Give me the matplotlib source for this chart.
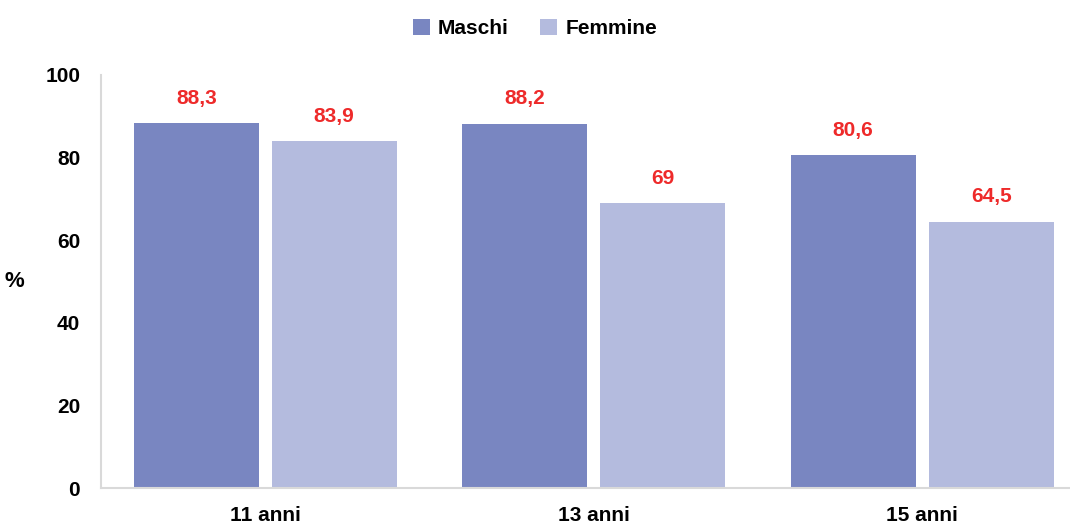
import numpy as np
import matplotlib
matplotlib.use("Agg")
import matplotlib.pyplot as plt

categories = ["11 anni", "13 anni", "15 anni"]
maschi = [88.3, 88.2, 80.6]
femmine = [83.9, 69.0, 64.5]
maschi_labels = ["88,3", "88,2", "80,6"]
femmine_labels = ["83,9", "69", "64,5"]

plt.rcParams['font.family'] = ['Liberation Sans', 'DejaVu Sans']
plt.rcParams['font.weight'] = 'bold'

fig = plt.figure(figsize=(10.70, 5.28), dpi=100)
ax = fig.add_axes([101/1070, 1 - 488/528, (1070 - 101)/1070, (488 - 75)/528])

x = np.arange(len(categories))
w = 0.38
b1 = ax.bar(x - 0.21, maschi, w, color='#7986c1', label='Maschi')
b2 = ax.bar(x + 0.21, femmine, w, color='#b4bbde', label='Femmine')

# etichette rosse sopra le barre
for bars, labs in [(b1, maschi_labels), (b2, femmine_labels)]:
    for bar, lab in zip(bars, labs):
        ax.annotate(lab, (bar.get_x() + bar.get_width() / 2, bar.get_height()),
                    xytext=(0, 11), textcoords='offset points', ha='center', va='bottom',
                    color='#ee2a2a', fontsize=15, fontweight='bold')

ax.set_xlim(-0.5, 2.45)
ax.set_ylim(0, 100)
ax.set_yticks([0, 20, 40, 60, 80, 100])
ax.set_xticks(x)
ax.set_xticklabels(categories)
ax.tick_params(length=0, labelsize=15)
ax.tick_params(axis='x', pad=13)
ax.tick_params(axis='y', pad=15)
for s in ['top', 'right']:
    ax.spines[s].set_visible(False)
for s in ['left', 'bottom']:
    ax.spines[s].set_color('#d9d9d9')
    ax.spines[s].set_linewidth(1.5)

ax.set_ylabel('%', rotation=0, fontsize=16, fontweight='bold', labelpad=22, va='center')

fig.legend(loc='upper center', bbox_to_anchor=(0.5, 1.0), ncol=2, frameon=False,
           fontsize=15, handlelength=0.8, handleheight=0.8, columnspacing=1.5, handletextpad=0.4)

fig.savefig('out.png', dpi=100)
